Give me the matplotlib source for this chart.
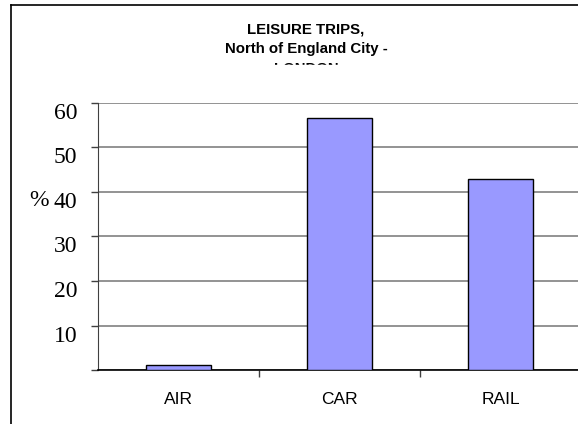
import matplotlib
matplotlib.use("Agg")
import matplotlib.pyplot as plt
from matplotlib import patches, lines, transforms

W, H = 578, 424
DPI = 100

# データ
modes = ["AIR", "CAR", "RAIL"]
share = [1.1, 56.6, 42.9]
y_ticks = [0, 10, 20, 30, 40, 50, 60]
y_labels = ["", "10", "20", "30", "40", "50", "60"]
title_lines = ["LEISURE TRIPS,", "North of England City -", "LONDON"]

fig = plt.figure(figsize=(W / DPI, H / DPI), dpi=DPI)
fig.patch.set_facecolor("white")

# 外枠(左と上だけ見える)
fig.add_artist(lines.Line2D([11 / W, 11 / W], [0, 1 - 5 / H],
                            color="black", lw=1.2))
fig.add_artist(lines.Line2D([11 / W, 1], [1 - 5 / H, 1 - 5 / H],
                            color="black", lw=1.2))

ax = fig.add_axes([98 / W, 1 - 370 / H, 483 / W, 267 / H])
x = range(len(modes))
ax.bar(x, share, width=0.4, color="#9999ff", edgecolor="black",
       linewidth=1.0, zorder=3)
ax.set_xlim(-0.5, 2.5)
ax.set_ylim(0, 60)

ax.set_yticks(y_ticks)
ax.set_yticklabels(y_labels, family="Liberation Serif", fontsize=17)
shift = transforms.ScaledTranslation(0, -2 / DPI, fig.dpi_scale_trans)
for lab in ax.get_yticklabels():
    lab.set_va("top")
    lab.set_transform(lab.get_transform() + shift)
ax.yaxis.grid(True, color="#808080", lw=1.2, zorder=0)
ax.tick_params(axis="y", length=5, width=1, color="#404040", pad=10)

ax.set_xticks(list(x))
ax.set_xticklabels(modes, family="Liberation Sans", fontsize=12.5)
ax.set_xticks([0.5, 1.5], minor=True)
ax.tick_params(axis="x", which="major", length=0, pad=16)
ax.tick_params(axis="x", which="minor", length=5, width=1, color="#404040")

for s in ["top", "right"]:
    ax.spines[s].set_visible(False)
ax.spines["left"].set_color("#404040")
ax.spines["bottom"].set_color("black")
ax.spines["bottom"].set_linewidth(1.2)

# % ラベル
fig.text(39 / W, 1 - 190 / H, "%", family="Liberation Serif", fontsize=17,
         ha="center", va="top")

# タイトル(3行目は途中で切れている)
for i, t in enumerate(title_lines):
    fig.text(306 / W, 1 - (34 + i * 19.5) / H, t, family="Liberation Sans",
             fontsize=10.8, fontweight="bold", ha="center", va="baseline",
             zorder=1)
fig.add_artist(patches.Rectangle((180 / W, 1 - 85 / H), 260 / W, 20 / H,
                                 transform=fig.transFigure, color="white",
                                 zorder=2))

fig.savefig("out.png", dpi=DPI)
